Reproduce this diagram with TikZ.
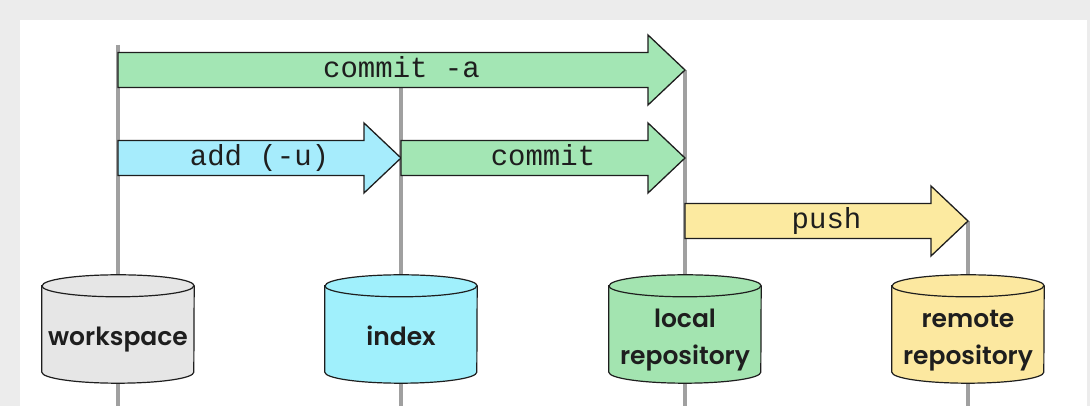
\documentclass[tikz,border=0pt]{standalone}
\usepackage{fontspec}
\usetikzlibrary{calc}
\newfontfamily\monof{Liberation Mono}
\newfontfamily\cylf{Poppins}[UprightFont={* SemiBold}]
\definecolor{bggray}{HTML}{ECECEC}
\definecolor{linegray}{HTML}{A0A0A0}
\definecolor{ink}{HTML}{1E1E1E}
\definecolor{arrgreen}{HTML}{A3E6B4}
\definecolor{arrcyan}{HTML}{A6ECFC}
\definecolor{arryellow}{HTML}{FCEAA0}
\definecolor{cylgray}{HTML}{E6E6E6}
\definecolor{cylcyan}{HTML}{A0F0FC}
\definecolor{cylgreen}{HTML}{A3E4B0}
\definecolor{cylyellow}{HTML}{FCE8A0}
\newcommand\cylshape[2]{%
  \filldraw[cylline, fill=#2] ($(#1.north west)+(0,-11)$) -- ($(#1.south west)+(0,11)$)
    arc[start angle=180, end angle=360, x radius=76pt, y radius=11pt]
    -- ($(#1.north east)+(0,-11)$)
    arc[start angle=0, end angle=180, x radius=76pt, y radius=11pt] -- cycle;
  \draw[cylline] ($(#1.north west)+(0,-11)$)
    arc[start angle=180, end angle=360, x radius=76pt, y radius=11pt];}
\newcommand\fatarrow[5]{%
  \draw[fatarr, fill=#3] ($(#1)+(0,17.5)$) -- ($(#2)+(-37,17.5)$) -- ($(#2)+(-37,35)$)
    -- (#2) -- ($(#2)+(-37,-35)$) -- ($(#2)+(-37,-17.5)$) -- ($(#1)+(0,-17.5)$) -- cycle;
  \node[arrlabel] (#5) at ($(#1)!0.5!(#2)$) {#4};}
\begin{document}
\begin{tikzpicture}[x=1pt,y=1pt,
  vline/.style={draw=linegray, line width=4pt},
  fatarr/.style={draw=ink, line width=1.3pt, line join=miter},
  cylline/.style={draw=ink, line width=1.2pt},
  arrlabel/.style={font=\monof\fontsize{29}{30}\selectfont, text=ink, inner sep=0pt,
    text height=20pt, text depth=5pt},
  cylbox/.style={minimum width=152pt, minimum height=108pt, inner sep=0pt},
  cyltext/.style={font=\cylf\fontsize{25}{37}\selectfont, text=ink, align=center, inner sep=0pt}
]
\fill[bggray] (0,0) rectangle (1090,406);
\fill[white] (20,0) rectangle (1087,386);
\useasboundingbox (0,0) rectangle (1090,406);

% storage nodes (cylinders)
\node[cylbox] (ws) at (118,77) {};
\node[cylbox] (ix) at (401,77) {};
\node[cylbox] (lr) at (685,77) {};
\node[cylbox] (rr) at (968,77) {};

% line end points
\coordinate (wsTop) at (118,361);
\coordinate (wsA) at (118,336);
\coordinate (wsB) at (118,248);
\coordinate (ixTop) at (401,336);
\coordinate (ixB) at (401,248);
\coordinate (lrTop) at (685,336);
\coordinate (lrB) at (685,248);
\coordinate (lrC) at (685,185);
\coordinate (rrTop) at (968,185);
\coordinate (wsBot) at (118,0);
\coordinate (ixBot) at (401,0);
\coordinate (lrBot) at (685,0);
\coordinate (rrBot) at (968,0);

% vertical lines
\draw[vline] (wsTop) -- (ws.north);
\draw[vline] (ixTop) -- (ix.north);
\draw[vline] (lrTop) -- (lr.north);
\draw[vline] (rrTop) -- (rr.north);
\draw[vline] (ws.south) -- (wsBot);
\draw[vline] (ix.south) -- (ixBot);
\draw[vline] (lr.south) -- (lrBot);
\draw[vline] (rr.south) -- (rrBot);

% cylinders
\cylshape{ws}{cylgray}
\cylshape{ix}{cylcyan}
\cylshape{lr}{cylgreen}
\cylshape{rr}{cylyellow}
\node[cyltext, anchor=base] (wsL) at (118,60) {workspace};
\node[cyltext, anchor=base] (ixL) at (401,60) {index};
\node[cyltext, anchor=base] (lrL) at (685,41) {local\\repository};
\node[cyltext, anchor=base] (rrL) at (968,41) {remote\\repository};

% arrows
\fatarrow{wsA}{lrTop}{arrgreen}{commit -a}{commitA}
\fatarrow{wsB}{ixB}{arrcyan}{add (-u)}{add}
\fatarrow{ixB}{lrB}{arrgreen}{commit}{commit}
\fatarrow{lrC}{rrTop}{arryellow}{push}{push}
\end{tikzpicture}
\end{document}
